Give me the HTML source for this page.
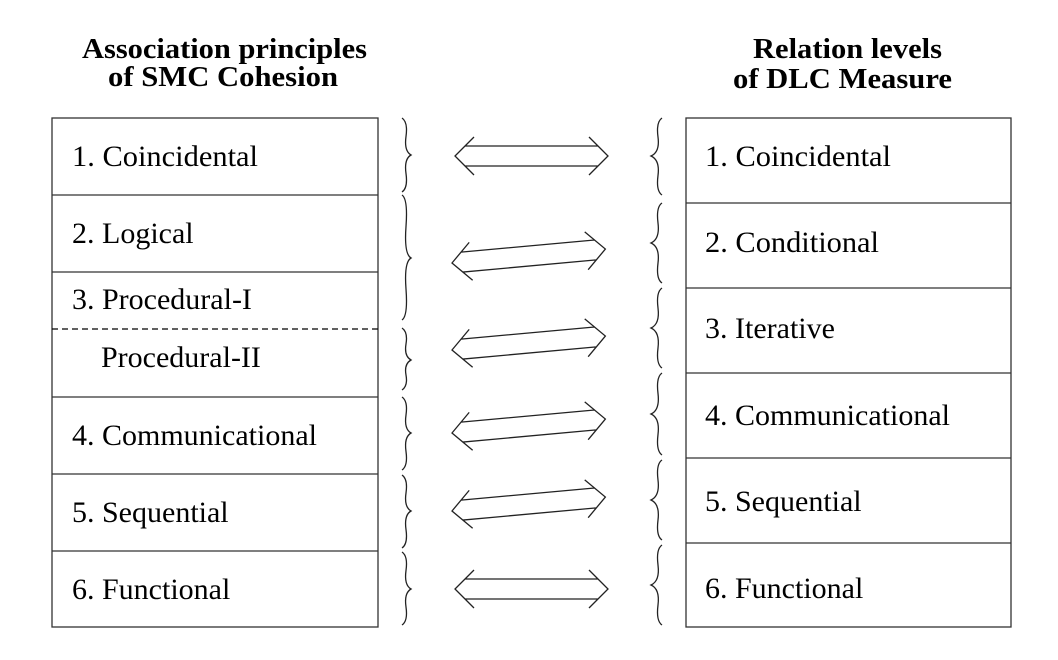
<!DOCTYPE html>
<html><head><meta charset="utf-8"><style>
html,body{margin:0;padding:0;background:#fff;}
svg{display:block;}
text{font-family:"Liberation Serif","DejaVu Serif",serif;fill:#000;}
.t{font-size:30px;}
.b{font-size:28px;font-weight:bold;}
</style></head><body>
<svg width="1058" height="660" viewBox="0 0 1058 660" xmlns="http://www.w3.org/2000/svg">
<g fill="none" stroke="#333" stroke-width="1.3">
<rect x="52" y="118" width="326" height="509"/>
<line x1="52" y1="195" x2="378" y2="195"/>
<line x1="52" y1="272" x2="378" y2="272"/>
<line x1="52" y1="329" x2="378" y2="329" stroke-dasharray="6,4" stroke="#000"/>
<line x1="52" y1="397" x2="378" y2="397"/>
<line x1="52" y1="474" x2="378" y2="474"/>
<line x1="52" y1="551" x2="378" y2="551"/>
<rect x="686" y="118" width="325" height="509"/>
<line x1="686" y1="203" x2="1011" y2="203"/>
<line x1="686" y1="288" x2="1011" y2="288"/>
<line x1="686" y1="373" x2="1011" y2="373"/>
<line x1="686" y1="458" x2="1011" y2="458"/>
<line x1="686" y1="543" x2="1011" y2="543"/>
</g>
<text class="b" x="82" y="58" textLength="285" lengthAdjust="spacingAndGlyphs">Association principles</text>
<text class="b" x="108" y="86" textLength="230" lengthAdjust="spacingAndGlyphs">of SMC Cohesion</text>
<text class="b" x="753" y="58" textLength="189" lengthAdjust="spacingAndGlyphs">Relation levels</text>
<text class="b" x="733" y="88" textLength="219" lengthAdjust="spacingAndGlyphs">of DLC Measure</text>
<text class="t" x="72" y="166" textLength="186" lengthAdjust="spacingAndGlyphs">1. Coincidental</text>
<text class="t" x="72" y="243">2. Logical</text>
<text class="t" x="72" y="309">3. Procedural-I</text>
<text class="t" x="101" y="367">Procedural-II</text>
<text class="t" x="72" y="445">4. Communicational</text>
<text class="t" x="72" y="522">5. Sequential</text>
<text class="t" x="72" y="599">6. Functional</text>
<text class="t" x="705" y="166" textLength="186" lengthAdjust="spacingAndGlyphs">1. Coincidental</text>
<text class="t" x="705" y="252" textLength="174" lengthAdjust="spacingAndGlyphs">2. Conditional</text>
<text class="t" x="705" y="338">3. Iterative</text>
<text class="t" x="705" y="425">4. Communicational</text>
<text class="t" x="705" y="511">5. Sequential</text>
<text class="t" x="705" y="598">6. Functional</text>
<g fill="none" stroke="#222" stroke-width="1.3">
<path d="M402 118 Q408 122 406 136.5 Q404 151 411 155 Q404 159 406 173.5 Q408 188 402 192"/>
<path d="M402 195 Q408 199 406 226.5 Q404 254 411 258 Q404 262 406 289 Q408 316 402 320"/>
<path d="M402 328 Q408 332 406 344 Q404 356 411 360 Q404 364 406 375 Q408 386 402 390"/>
<path d="M402 397 Q408 401 406 415 Q404 429 411 433 Q404 437 406 451.5 Q408 466 402 470"/>
<path d="M402 475 Q408 479 406 493 Q404 507 411 511 Q404 515 406 529.5 Q408 544 402 548"/>
<path d="M402 552 Q408 556 406 570.5 Q404 585 411 589 Q404 593 406 607 Q408 621 402 625"/>
<path d="M662 118 Q656 122 658 137 Q660 152 651 156 Q660 160 658 175.5 Q656 191 662 195"/>
<path d="M662 203 Q656 207 658 223 Q660 239 651 243 Q660 247 658 263 Q656 279 662 283"/>
<path d="M662 288 Q656 292 658 308 Q660 324 651 328 Q660 332 658 348 Q656 364 662 368"/>
<path d="M662 373 Q656 377 658 393.5 Q660 410 651 414 Q660 418 658 434.5 Q656 451 662 455"/>
<path d="M662 460 Q656 464 658 480 Q660 496 651 500 Q660 504 658 520 Q656 536 662 540"/>
<path d="M662 545 Q656 549 658 565 Q660 581 651 585 Q660 589 658 605 Q656 621 662 625"/>
</g>
<defs>
<path id="a153" d="M19 -19 L0 0 L19 19 M134 -19 L153 0 L134 19 M10 -10 L143 -10 M10 10 L143 10"/>
<path id="a154" d="M19 -19 L0 0 L19 19 M135 -19 L154 0 L135 19 M10 -10 L144 -10 M10 10 L144 10"/>
</defs>
<g fill="none" stroke="#222" stroke-width="1.3">
<use href="#a153" transform="translate(455,156)"/>
<use href="#a154" transform="translate(452,263) rotate(-5.2)"/>
<use href="#a154" transform="translate(452,350) rotate(-5.2)"/>
<use href="#a154" transform="translate(452,433) rotate(-5.2)"/>
<use href="#a154" transform="translate(452,511) rotate(-5.2)"/>
<use href="#a153" transform="translate(455,589)"/>
</g>
</svg>
</body></html>
